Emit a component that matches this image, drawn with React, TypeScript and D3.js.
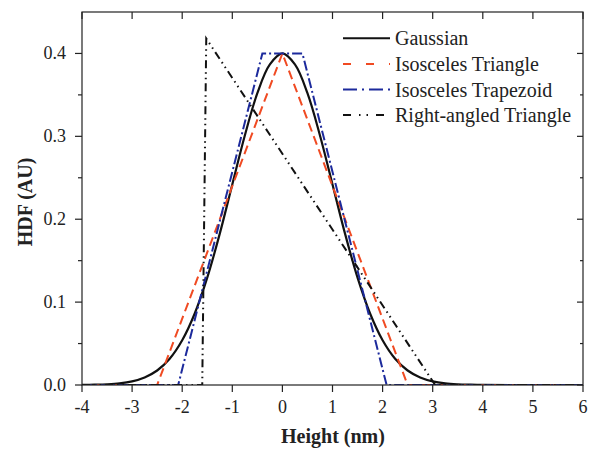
import React, { useEffect, useRef } from "react";
import * as d3 from "d3";

// Gaussian (0.25 nm steps)
const gaussX = [-4, -3.75, -3.5, -3.25, -3, -2.75, -2.5, -2.25, -2, -1.75, -1.5, -1.25, -1, -0.75, -0.5, -0.25, 0,
  0.25, 0.5, 0.75, 1, 1.25, 1.5, 1.75, 2, 2.25, 2.5, 2.75, 3, 3.25, 3.5, 3.75, 4, 5, 6];
const gaussY = [0.0001, 0.0004, 0.0009, 0.002, 0.0044, 0.0091, 0.0175, 0.0317, 0.054, 0.0863, 0.1295, 0.1826, 0.242, 0.3011, 0.3521, 0.3867, 0.4,
  0.3867, 0.3521, 0.3011, 0.242, 0.1826, 0.1295, 0.0863, 0.054, 0.0317, 0.0175, 0.0091, 0.0044, 0.002, 0.0009, 0.0004, 0.0001, 0, 0];

const triX = [-4, -2.5, 0, 2.5, 6];
const triY = [0, 0, 0.4, 0, 0];

const trapX = [-4, -2.08, -0.4, 0.4, 2.08, 6];
const trapY = [0, 0, 0.4, 0.4, 0, 0];

const rightX = [-4, -1.6, -1.52, 3.05, 6];
const rightY = [0, 0, 0.418, 0, 0];

const xTicks = [-4, -3, -2, -1, 0, 1, 2, 3, 4, 5, 6];
const yTicks = [0, 0.1, 0.2, 0.3, 0.4];
const yMinor = [0.05, 0.15, 0.25, 0.35];

const series = [
  { name: "Gaussian", xs: gaussX, ys: gaussY, color: "#111", dash: null, legendDash: null, smooth: true },
  { name: "Isosceles Triangle", xs: triX, ys: triY, color: "#f04a22", dash: "9,5", legendDash: "8,15", smooth: false },
  { name: "Isosceles Trapezoid", xs: trapX, ys: trapY, color: "#1c2a9c", dash: "10,3,2,3", legendDash: "14,5,2,5", smooth: false },
  { name: "Right-angled Triangle", xs: rightX, ys: rightY, color: "#111", dash: "8,4,1.5,4,1.5,4", legendDash: "8,8,1.5,6,1.5,8", smooth: false },
];

export default function App() {
  const ref = useRef<SVGSVGElement>(null);

  useEffect(() => {
    const svg = d3.select(ref.current);
    svg.selectAll("*").remove();
    const font = "'Liberation Serif', 'Times New Roman', serif";

    const x = d3.scaleLinear().domain([-4, 6]).range([82, 583]);
    const y = d3.scaleLinear().domain([0, 0.45]).range([385, 12]);

    svg.append("defs").append("clipPath").attr("id", "plot")
      .append("rect").attr("x", 82).attr("y", 12).attr("width", 501).attr("height", 373);

    const g = svg.append("g").attr("clip-path", "url(#plot)");
    series.forEach((s) => {
      const pts = s.xs.map((v, i) => [v, s.ys[i]] as [number, number]);
      const line = d3.line<[number, number]>()
        .x((d) => x(d[0]))
        .y((d) => y(d[1]))
        .curve(s.smooth ? d3.curveCatmullRom : d3.curveLinear);
      g.append("path")
        .attr("d", line(pts))
        .attr("fill", "none")
        .attr("stroke", s.color)
        .attr("stroke-width", s.smooth ? 2.2 : 2)
        .attr("stroke-dasharray", s.dash);
    });

    // frame
    svg.append("rect").attr("x", 82).attr("y", 12).attr("width", 501).attr("height", 373)
      .attr("fill", "none").attr("stroke", "#222").attr("stroke-width", 1.2);

    const ax = svg.append("g").attr("stroke", "#222").attr("stroke-width", 1.2);
    xTicks.forEach((t) => {
      ax.append("line").attr("x1", x(t)).attr("x2", x(t)).attr("y1", 385).attr("y2", 392);
      ax.append("line").attr("x1", x(t)).attr("x2", x(t)).attr("y1", 12).attr("y2", 19);
    });
    yTicks.forEach((t) => {
      ax.append("line").attr("x1", 75).attr("x2", 82).attr("y1", y(t)).attr("y2", y(t));
      ax.append("line").attr("x1", 577).attr("x2", 583).attr("y1", y(t)).attr("y2", y(t));
    });
    yMinor.forEach((t) => {
      ax.append("line").attr("x1", 78).attr("x2", 82).attr("y1", y(t)).attr("y2", y(t));
      ax.append("line").attr("x1", 580).attr("x2", 583).attr("y1", y(t)).attr("y2", y(t));
    });

    const lab = svg.append("g").attr("font-family", font).attr("font-size", 18).attr("fill", "#222");
    xTicks.forEach((t) => {
      lab.append("text").attr("x", x(t)).attr("y", 412.5).attr("text-anchor", "middle").text(String(t));
    });
    yTicks.forEach((t) => {
      lab.append("text").attr("x", 66).attr("y", y(t) + 6).attr("text-anchor", "end").text(d3.format(".1f")(t));
    });

    svg.append("text").attr("x", 333).attr("y", 443).attr("text-anchor", "middle")
      .attr("font-family", font).attr("font-size", 20).attr("font-weight", "bold").attr("fill", "#222")
      .text("Height (nm)");
    svg.append("text").attr("transform", "translate(32,202) rotate(-90)").attr("text-anchor", "middle")
      .attr("font-family", font).attr("font-size", 20).attr("font-weight", "bold").attr("fill", "#222")
      .text("HDF (AU)");

    // legend
    const lg = svg.append("g").attr("font-family", font).attr("font-size", 20).attr("fill", "#222");
    series.forEach((s, i) => {
      const yy = 38.3 + i * 25.6;
      lg.append("line").attr("x1", 343).attr("x2", 390).attr("y1", yy).attr("y2", yy)
        .attr("stroke", s.color).attr("stroke-width", 2).attr("stroke-dasharray", s.legendDash);
      lg.append("text").attr("x", 395).attr("y", yy + 7).text(s.name);
    });
  }, []);

  return (
    <svg ref={ref} width={595} height={452}
      style={{ position: "absolute", left: 0, top: 0, background: "#fff" }} />
  );
}
